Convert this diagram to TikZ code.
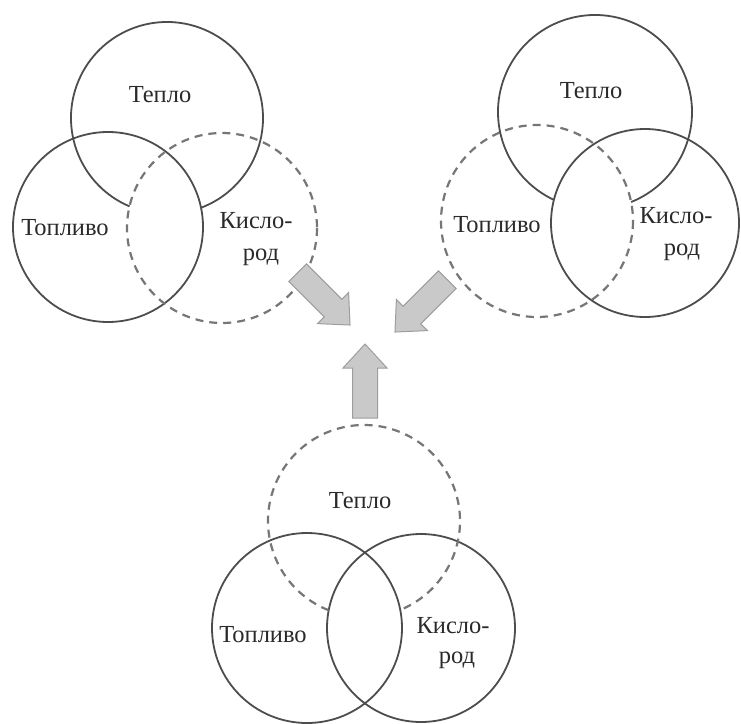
\documentclass[tikz,border=0pt]{standalone}
\usepackage{fontspec}
\setmainfont{Liberation Serif}
\definecolor{linegray}{HTML}{4D4D4D}
\definecolor{dashgray}{HTML}{767676}
\definecolor{txtgray}{HTML}{2A2A2A}
\definecolor{arrowfill}{HTML}{C9C9C9}
\definecolor{arrowline}{HTML}{9E9E9E}
\begin{document}
\begin{tikzpicture}[x=1bp,y=-1bp,
  solidc/.style={draw=linegray, line width=1.8bp},
  dashc/.style={draw=dashgray, line width=2.2bp, dash pattern=on 8bp off 6bp},
  lbl/.style={font=\fontsize{24.5bp}{30bp}\selectfont, text=txtgray, inner sep=0pt, anchor=base},
  arrowst/.style={fill=arrowfill, draw=arrowline, line width=1bp, line join=miter},
  blockarr/.pic={\draw[arrowst] (0,-12.5) -- (50,-12.5) -- (50,-22) -- (74,0) -- (50,22) -- (50,12.5) -- (0,12.5) -- cycle;}]
\useasboundingbox (0,0) rectangle (741,724);
\fill[white] (0,0) rectangle (741,724);

% ---------- top-left group (oxygen missing) ----------
\coordinate (tlT) at (167,118);
\coordinate (tlF) at (108,227);
\coordinate (tlK) at (222,228);
\draw[solidc] (tlF) circle[radius=95];
\draw[dashc] (tlK) circle[radius=95];
\draw[solidc] (tlT) ++(112.96:96) arc[start angle=112.96, end angle=429.2, radius=96];
\node[lbl] (tlTl) at (160,103) {Тепло};
\node[lbl] (tlFl) at (65,235) {Топливо};
\node[lbl] (tlKa) at (252,228) {Кисло\rlap{-}};
\node[lbl] (tlKb) at (261,260) {род};

% ---------- top-right group (fuel missing) ----------
\coordinate (trT) at (595,112);
\coordinate (trF) at (537,221);
\coordinate (trK) at (645,223);
\draw[dashc] (trF) circle[radius=96];
\draw[solidc] (trK) circle[radius=94];
\draw[solidc] (trT) ++(115.06:97) arc[start angle=115.06, end angle=428.14, radius=97];
\node[lbl] (trTl) at (591,99) {Тепло};
\node[lbl] (trFl) at (497,232) {Топливо};
\node[lbl] (trKa) at (672,223) {Кисло\rlap{-}};
\node[lbl] (trKb) at (682,255) {род};

% ---------- bottom group (heat missing) ----------
\coordinate (bT) at (364,521);
\coordinate (bF) at (307,628);
\coordinate (bK) at (421,628);
\draw[solidc] (bF) circle[radius=95];
\draw[solidc] (bK) circle[radius=94];
\draw[dashc] (bT) ++(111.57:96) arc[start angle=111.57, end angle=427.79, radius=96];
\node[lbl] (bTl) at (360,508) {Тепло};
\node[lbl] (bFl) at (263,642) {Топливо};
\node[lbl] (bKa) at (449,633) {Кисло\rlap{-}};
\node[lbl] (bKb) at (457,663) {род};

% ---------- block arrows ----------
\pic[rotate=-45] at (297.7,272.7) {blockarr};
\pic[rotate=-135] at (447.3,279.7) {blockarr};
\pic[rotate=90] at (365,418) {blockarr};
\end{tikzpicture}
\end{document}
